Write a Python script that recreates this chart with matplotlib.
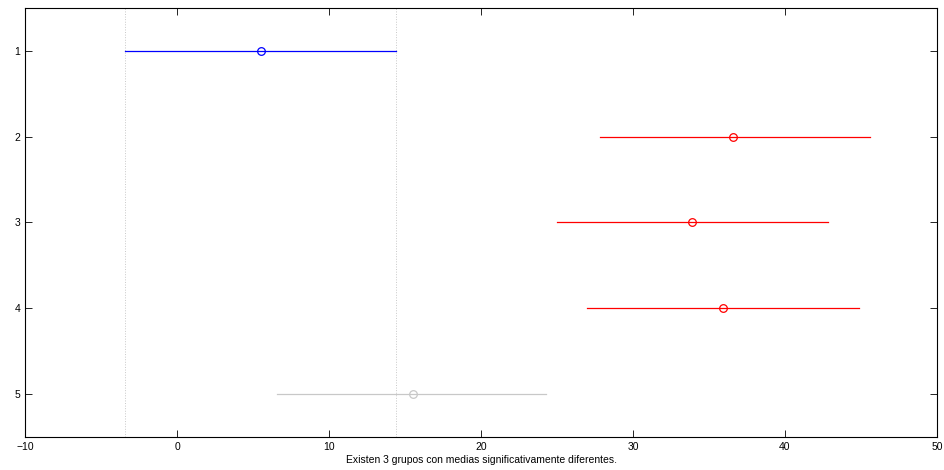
import numpy as np
import matplotlib.pyplot as plt

plt.rcParams['font.family'] = ['Liberation Sans', 'DejaVu Sans']

groups = [1, 2, 3, 4, 5]
means = [5.5, 36.6, 33.9, 35.9, 15.5]
lower = [-3.4, 27.8, 25.0, 27.0, 6.6]
upper = [14.4, 45.6, 42.8, 44.9, 24.3]
colors = ['#0000ff', '#ff0000', '#ff0000', '#ff0000', '#c8c8c8']

fig = plt.figure(figsize=(9.45, 4.7), dpi=100)
ax = fig.add_axes([0.0265, 0.0702, 0.965, 0.913])

# dotted reference lines at the limits of the selected group
for xv in (lower[0], upper[0]):
    ax.axvline(xv, color='#c8c8c8', linestyle=':', linewidth=0.7, zorder=0)

for g, m, lo, hi, c in zip(groups, means, lower, upper, colors):
    ax.plot([lo, hi], [g, g], color=c, linewidth=0.9)
    ax.plot(m, g, 'o', markerfacecolor='none', markeredgecolor=c,
            markersize=5.5, markeredgewidth=0.9)

ax.set_xlim(-10, 50)
ax.set_ylim(5.5, 0.5)
ax.set_yticks(groups)
ax.set_xticks(np.arange(-10, 51, 10))
ax.tick_params(direction='in', top=True, right=True, labelsize=7.5,
               length=5, width=0.6)
for s in ax.spines.values():
    s.set_linewidth(0.8)
ax.set_xlabel('Existen 3 grupos con medias significativamente diferentes.',
              fontsize=7.5, labelpad=2)

fig.savefig('out.png', dpi=100)
